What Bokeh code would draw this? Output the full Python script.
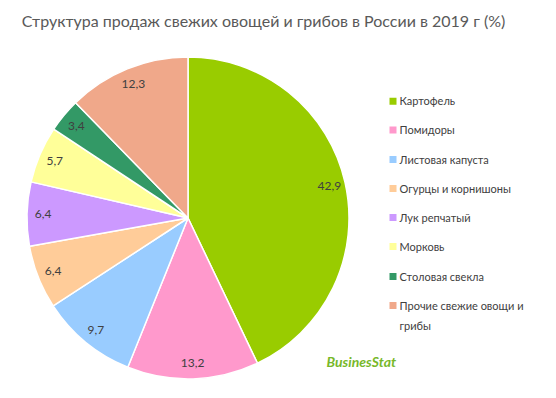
import math
from bokeh.plotting import figure
from bokeh.models import Range1d, ColumnDataSource
from bokeh.core.properties import value
from bokeh.embed import file_html
from bokeh.resources import INLINE

title = "Структура продаж свежих овощей и грибов в России в 2019 г (%)"
categories = ["Картофель", "Помидоры", "Листовая капуста", "Огурцы и корнишоны",
              "Лук репчатый", "Морковь", "Столовая свекла", "Прочие свежие  овощи и\nгрибы"]
values = [42.9, 13.2, 9.7, 6.4, 6.4, 5.7, 3.4, 12.3]
labels = ["42,9", "13,2", "9,7", "6,4", "6,4", "5,7", "3,4", "12,3"]
colors = ["#99CC00", "#FF99CC", "#99CCFF", "#FFCC99", "#CC99FF", "#FFFF99", "#339966", "#F0A88A"]

W, H = 540, 382
def sx(x): return x
def sy(y): return H - y

p = figure(width=W, height=H, x_range=Range1d(0, W), y_range=Range1d(0, H),
           output_backend="svg", toolbar_location=None, min_border=0)
p.axis.visible = False
p.grid.visible = False
p.outline_line_color = None
p.background_fill_color = "white"

cx, cy, R = sx(187.5), sy(217.5), 161
total = sum(values)
starts, ends, lx, ly = [], [], [], []
cum = 0.0
for v in values:
    a0 = math.pi / 2 - 2 * math.pi * cum / total
    a1 = math.pi / 2 - 2 * math.pi * (cum + v) / total
    starts.append(a0)
    ends.append(a1)
    mid = (a0 + a1) / 2
    lx.append(cx + 145 * math.cos(mid))
    ly.append(cy + 145 * math.sin(mid))
    cum += v

src = ColumnDataSource(dict(start=starts, end=ends, color=colors, lx=lx, ly=ly, lab=labels))
p.wedge(x=cx, y=cy, radius=R, start_angle="start", end_angle="end", direction="clock",
        fill_color="color", line_color="white", line_width=1.5, source=src)
p.text(x="lx", y="ly", text="lab", source=src, text_align="center", text_baseline="middle",
       text_font=value("Lato"), text_font_size="12px", text_color="#404040")

# title
p.text(x=[sx(263)], y=[sy(20)], text=[title], text_align="center", text_baseline="middle",
       text_font=value("Lato"), text_font_size="16px", text_color="#595959")

# legend
ys = [100.7, 129.5, 159, 188, 217, 246, 276, 305]
leg = ColumnDataSource(dict(x=[sx(392.5)] * 8, y=[sy(v) for v in ys], color=colors,
                            tx=[sx(399)] * 8, ty=[sy(v) for v in ys], name=categories))
p.rect(x="x", y="y", width=7, height=7, fill_color="color", line_color=None, source=leg)
p.text(x="tx", y="ty", text="name", source=leg, text_align="left", text_baseline="top",
       text_font=value("Lato"), text_font_size="11px", text_color="#404040",
       text_line_height=1.6, y_offset=-7)

# logo
p.text(x=[sx(326)], y=[sy(361)], text=["BusinesStat"], text_align="left", text_baseline="middle",
       text_font=value("Lato"), text_font_size="14px", text_font_style="bold italic",
       text_color="#77B82A")

open("out.html", "w").write(file_html(p, INLINE))
